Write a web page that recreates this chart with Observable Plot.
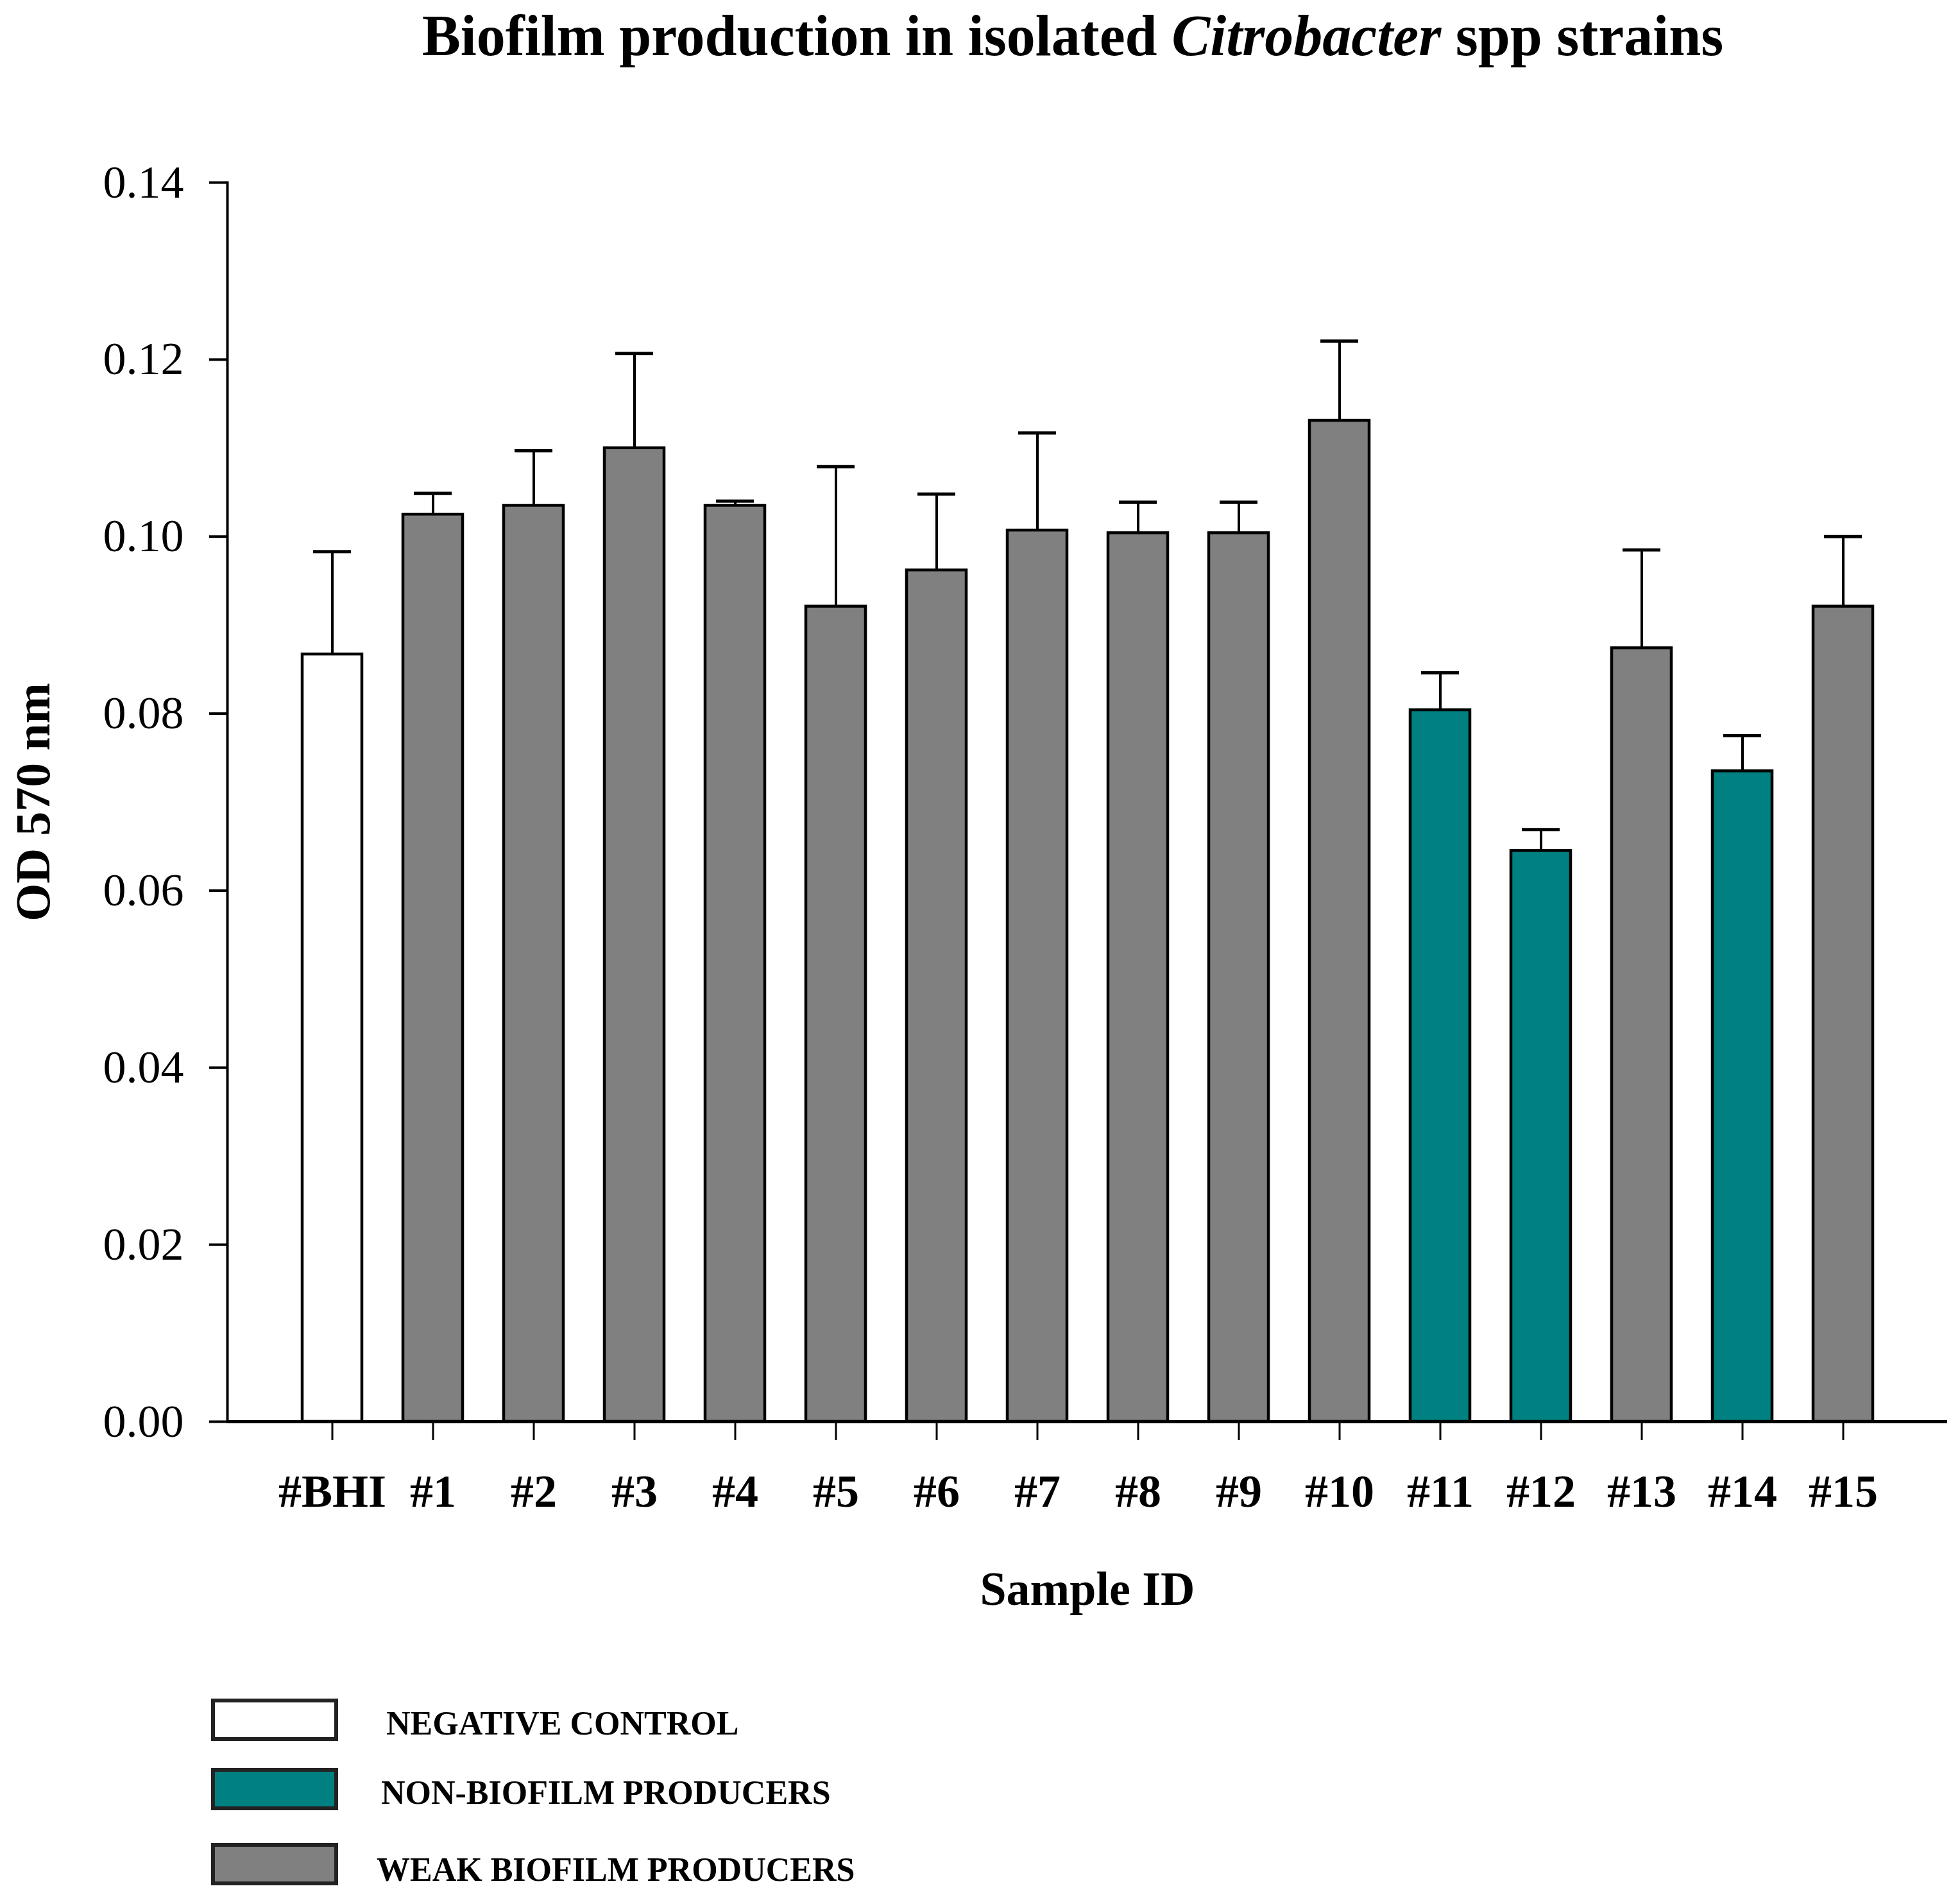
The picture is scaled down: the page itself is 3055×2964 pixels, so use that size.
<!DOCTYPE html>
<html>
<head>
<meta charset="utf-8">
<script src="https://cdn.jsdelivr.net/npm/d3@7"></script>
<script src="https://cdn.jsdelivr.net/npm/@observablehq/plot@0.6"></script>
<style>
  html, body { margin: 0; padding: 0; background: #fff; }
  body { width: 3055px; font-family: "Liberation Serif", "DejaVu Serif", serif; color: #000; }
  #title { position: relative; height: 150px; }
  #title span {
    position: absolute; top: 11px; left: 1672px; transform: translateX(-50%);
    white-space: nowrap; font-size: 90px; line-height: 90px; font-weight: bold;
  }
  #legend { position: relative; height: 404px; }
  .swatch { position: absolute; left: 329px; width: 186px; height: 54px; border: 6px solid #222; }
  .lab { position: absolute; font-size: 52px; line-height: 52px; font-weight: bold; white-space: nowrap; }
</style>
</head>
<body>
<div id="title"><span>Biofilm production in isolated <i>Citrobacter</i> spp strains</span></div>
<div id="chart"></div>
<div id="legend"></div>
<script>
(function () {
  "use strict";

  // Values (OD 570 nm, mean and upper error)
  const samples = ["#BHI", "#1", "#2", "#3", "#4", "#5", "#6", "#7", "#8", "#9", "#10", "#11", "#12", "#13", "#14", "#15"];
  const means = [0.0867, 0.1025, 0.1035, 0.1100, 0.1035, 0.0921, 0.0962, 0.1007, 0.1004, 0.1004, 0.1131, 0.0804, 0.0645, 0.0874, 0.0735, 0.0921];
  const errors = [0.0116, 0.0024, 0.0062, 0.0107, 0.0005, 0.0158, 0.0086, 0.0110, 0.0035, 0.0035, 0.0090, 0.0042, 0.0024, 0.0111, 0.0040, 0.0079];
  const groups = ["neg", "weak", "weak", "weak", "weak", "weak", "weak", "weak", "weak", "weak", "weak", "non", "non", "weak", "non", "weak"];
  const yTicks = [0, 0.02, 0.04, 0.06, 0.08, 0.10, 0.12, 0.14];

  const legendKeys = ["neg", "non", "weak"];
  const legendLabels = ["NEGATIVE CONTROL", "NON-BIOFILM PRODUCERS", "WEAK BIOFILM PRODUCERS"];
  const colors = { neg: "#ffffff", non: "#008080", weak: "#808080" };

  const data = samples.map(function (s, i) {
    return { id: s, mean: means[i], upper: means[i] + errors[i], group: groups[i] };
  });

  const chart = Plot.plot({
    width: 3055,
    height: 2410,
    marginLeft: 354,
    marginRight: 20,
    marginTop: 134,
    marginBottom: 345,
    style: {
      background: "#fff",
      color: "#000",
      fontFamily: "'Liberation Serif', 'DejaVu Serif', serif",
      fontSize: "72px",
      overflow: "visible",
    },
    x: { domain: samples, paddingInner: 0.41, paddingOuter: 0.705, label: null },
    y: { domain: [0, 0.14], label: null },
    marks: [
      Plot.barY(data, {
        x: "id",
        y: "mean",
        fill: function (d) { return colors[d.group]; },
        stroke: "#000",
        strokeWidth: 4.5,
      }),
      Plot.ruleX(data, { x: "id", y1: "mean", y2: "upper", stroke: "#000", strokeWidth: 4 }),
      Plot.tickY(data, { x: "id", y: "upper", stroke: "#000", strokeWidth: 5, insetLeft: 17, insetRight: 17 }),
      Plot.frame({ anchor: "left", stroke: "#000", strokeWidth: 4 }),
      Plot.ruleY([0], { stroke: "#000", strokeWidth: 5 }),
      Plot.axisY({
        ticks: yTicks,
        tickFormat: ".2f",
        tickSize: 28,
        tickPadding: 40,
        strokeWidth: 4,
        fontSize: 72,
        label: null,
      }),
      Plot.axisX({
        tickSize: 29,
        tickPadding: 52,
        strokeWidth: 3,
        fontSize: 72,
        fontWeight: "bold",
        label: null,
      }),
      Plot.text(["OD 570 nm"], {
        frameAnchor: "left",
        textAnchor: "middle",
        rotate: -90,
        dx: -302,
        fontSize: 76,
        fontWeight: "bold",
        fill: "#000",
      }),
      Plot.text(["Sample ID"], {
        frameAnchor: "bottom",
        lineAnchor: "bottom",
        dy: 285,
        fontSize: 74,
        fontWeight: "bold",
        fill: "#000",
      }),
    ],
  });
  document.getElementById("chart").appendChild(chart);

  // Legend below the chart
  const legend = document.getElementById("legend");
  const boxTops = [87, 195, 312];
  const labelTops = [100, 208, 328];
  const labelLefts = [602, 594, 587];
  legendKeys.forEach(function (k, i) {
    const sw = document.createElement("div");
    sw.className = "swatch";
    sw.style.top = boxTops[i] + "px";
    sw.style.background = colors[k];
    legend.appendChild(sw);
    const lb = document.createElement("div");
    lb.className = "lab";
    lb.style.top = labelTops[i] + "px";
    lb.style.left = labelLefts[i] + "px";
    lb.textContent = legendLabels[i];
    legend.appendChild(lb);
  });
})();
</script>
</body>
</html>
